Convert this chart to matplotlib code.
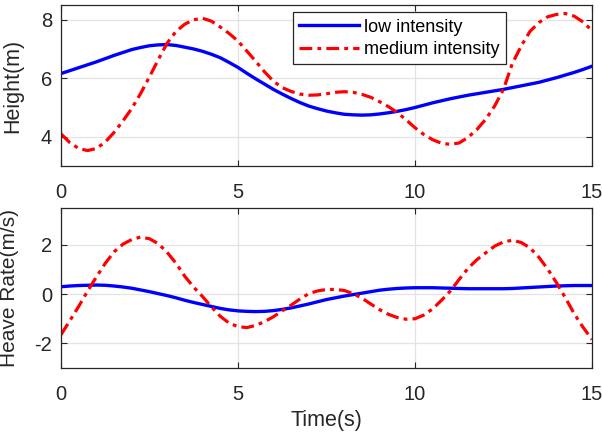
import matplotlib
matplotlib.use("Agg")
import matplotlib.pyplot as plt

plt.rcParams['font.family'] = ['Liberation Sans', 'DejaVu Sans']
plt.rcParams['axes.unicode_minus'] = False

# time axis (s), sampled every 0.25 s
t = [i * 0.25 for i in range(61)]

height_low = [6.16, 6.26, 6.36, 6.46, 6.56, 6.67, 6.78, 6.88, 6.98, 7.05,
              7.11, 7.14, 7.15, 7.12, 7.06, 7.00, 6.92, 6.82, 6.70, 6.54,
              6.37, 6.17, 5.98, 5.80, 5.62, 5.46, 5.31, 5.17, 5.05, 4.96,
              4.88, 4.82, 4.77, 4.75, 4.74, 4.75, 4.78, 4.82, 4.87, 4.93,
              5.00, 5.08, 5.16, 5.23, 5.30, 5.36, 5.42, 5.47, 5.52, 5.57,
              5.62, 5.68, 5.74, 5.80, 5.86, 5.94, 6.02, 6.11, 6.20, 6.30, 6.41]
height_med = [4.10, 3.80, 3.60, 3.53, 3.60, 3.82, 4.15, 4.54, 4.97, 5.48,
              6.05, 6.64, 7.20, 7.60, 7.85, 8.00, 8.05, 7.95, 7.75, 7.53,
              7.27, 6.93, 6.58, 6.22, 5.90, 5.68, 5.55, 5.46, 5.42, 5.43,
              5.47, 5.52, 5.54, 5.52, 5.45, 5.35, 5.20, 5.03, 4.83, 4.58,
              4.31, 4.08, 3.90, 3.78, 3.74, 3.79, 3.98, 4.25, 4.60, 5.05,
              5.62, 6.50, 7.10, 7.60, 7.90, 8.10, 8.18, 8.21, 8.12, 7.92, 7.63]

rate_low = [0.30, 0.33, 0.35, 0.36, 0.37, 0.36, 0.33, 0.29, 0.24, 0.17,
            0.10, 0.02, -0.06, -0.15, -0.25, -0.34, -0.42, -0.50, -0.58, -0.64,
            -0.68, -0.70, -0.71, -0.70, -0.67, -0.62, -0.56, -0.48, -0.40, -0.31,
            -0.22, -0.15, -0.08, -0.02, 0.04, 0.10, 0.16, 0.20, 0.23, 0.25,
            0.26, 0.26, 0.26, 0.25, 0.24, 0.23, 0.22, 0.22, 0.22, 0.22,
            0.22, 0.23, 0.25, 0.27, 0.29, 0.31, 0.33, 0.34, 0.35, 0.35, 0.35]
rate_med = [-1.65, -1.08, -0.50, 0.12, 0.70, 1.25, 1.72, 2.03, 2.22, 2.32,
            2.25, 2.05, 1.70, 1.25, 0.72, 0.28, -0.10, -0.52, -0.90, -1.18,
            -1.32, -1.36, -1.27, -1.12, -0.92, -0.68, -0.45, -0.20, 0.02, 0.13,
            0.19, 0.19, 0.15, 0.02, -0.16, -0.40, -0.63, -0.82, -0.95, -1.02,
            -1.00, -0.85, -0.60, -0.25, 0.13, 0.60, 1.05, 1.40, 1.68, 1.95,
            2.12, 2.19, 2.10, 1.88, 1.50, 1.02, 0.46, -0.15, -0.80, -1.35, -1.84]

series_labels = ["low intensity", "medium intensity"]
xticks = [0, 5, 10, 15]

fig = plt.figure(figsize=(6.02, 4.37), dpi=100)
ax1 = fig.add_axes([0.1013, 0.620, 0.882, 0.3684])
ax2 = fig.add_axes([0.1013, 0.158, 0.882, 0.366])

spine_col = '#262626'
dash = (4, 1.6, 1.2, 1.6)

def style(ax):
    ax.set_xlim(0, 15)
    ax.set_xticks(xticks)
    ax.grid(True, color='#e3e3e3', linewidth=0.9)
    ax.set_axisbelow(True)
    ax.tick_params(direction='in', length=4, width=0.8, colors=spine_col,
                   top=True, right=True, labelsize=14.5)
    ax.tick_params(axis='x', pad=12.5)
    ax.tick_params(axis='y', pad=6.5)
    for s in ax.spines.values():
        s.set_color(spine_col)
        s.set_linewidth(0.9)

ax1.plot(t, height_low, color='#0000ff', lw=2.4, label=series_labels[0])
ax1.plot(t, height_med, color='#ff0000', lw=2.3, linestyle=(0, dash), label=series_labels[1])
style(ax1)
ax1.set_ylim(3, 8.5)
ax1.set_yticks([4, 6, 8])
ax1.set_ylabel("Height(m)", fontsize=15.5, color=spine_col)
ax1.yaxis.set_label_coords(-0.072, 0.5)
leg = ax1.legend(loc='upper left', bbox_to_anchor=(0.437, 0.955), fontsize=13,
                 handlelength=3.3, handletextpad=0.3, borderpad=0.35,
                 labelspacing=0.3, fancybox=False, framealpha=1,
                 edgecolor=spine_col, borderaxespad=0)
leg.get_frame().set_linewidth(0.9)

ax2.plot(t, rate_low, color='#0000ff', lw=2.4)
ax2.plot(t, rate_med, color='#ff0000', lw=2.3, linestyle=(0, dash))
style(ax2)
ax2.set_ylim(-3, 3.5)
ax2.set_yticks([-2, 0, 2])
ax2.set_ylabel("Heave Rate(m/s)", fontsize=15, color=spine_col)
ax2.yaxis.set_label_coords(-0.079, 0.5)
ax2.set_xlabel("Time(s)", fontsize=15.5, color=spine_col, labelpad=4)

fig.savefig("out.png", dpi=100)
